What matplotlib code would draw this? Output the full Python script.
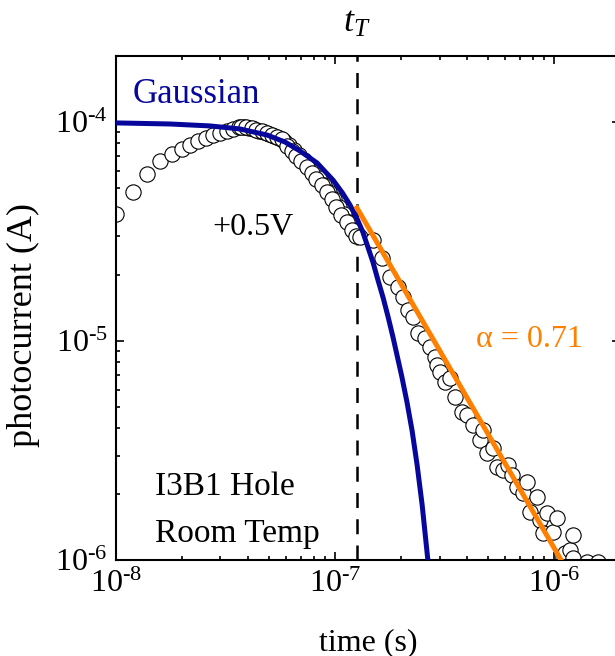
import numpy as np
import matplotlib
matplotlib.use("Agg")
import matplotlib.pyplot as plt
from matplotlib.ticker import FuncFormatter

# measured transient (time in ns, photocurrent in uA)
data_t_ns = [10.0, 12.0, 13.9, 15.9, 18.0, 20.0, 21.8, 23.7, 25.8, 27.7,
             29.8, 32.1, 34.2, 36.4, 38.4, 40.5, 42.7, 45.0, 47.4, 50.0,
             52.7, 55.5, 58.5, 61.7, 65.0, 68.5, 72.2, 76.1, 80.2, 84.5,
             89.1, 93.9, 98.9, 104, 110, 116, 122, 127,
             37.4, 39.4, 41.6, 43.8, 46.2, 48.7, 51.3, 54.1, 57.0, 60.1,
             63.3, 66.7, 70.3, 74.1, 78.1, 82.3, 86.8, 91.5, 96.4, 101.5,
             107, 113, 119, 124.5,
             130, 149, 164, 178, 194, 204, 215, 227, 239, 258,
             272, 286, 292, 302, 318, 335, 353, 380, 401, 427,
             459, 474, 494, 527, 549, 585, 617, 643, 678, 722,
             753, 777, 836, 863, 891, 929, 989, 1032, 1099, 1123,
             1183, 1221, 1221, 1415, 1588]
data_i_ua = [38.0, 47.9, 57.9, 66.4, 71.4, 75.3, 78.5, 81.9, 84.5, 87.2,
             89.1, 91.0, 92.9, 94.9, 94.9, 93.9, 92.9, 91.0, 90.0, 88.2,
             86.3, 84.5, 81.9, 78.5, 74.5, 70.7, 67.1, 63.0, 59.1, 55.5,
             51.6, 47.9, 44.5, 40.9, 38.0, 34.9, 32.1, 30.5,
             94.9, 94.4, 93.4, 92.0, 90.5, 89.1, 87.2, 85.4, 83.2, 78.0,
             74.0, 70.0, 66.5, 62.5, 58.5, 55.0, 51.5, 48.0, 44.5, 41.0,
             37.8, 34.8, 32.0, 30.0,
             29.8, 28.9, 23.9, 19.6, 17.6, 15.9, 13.9, 12.9, 10.9, 10.3,
             9.39, 8.45, 7.77, 7.22, 6.50, 6.78, 5.55, 4.74, 4.59, 4.13,
             3.53, 3.92, 3.08, 3.25, 2.66, 2.58, 2.72, 2.44, 2.15, 2.02,
             2.27, 1.66, 1.94, 1.52, 1.33, 1.64, 1.34, 1.56, 1.03, 1.08,
             1.11, 1.30, 1.02, 0.98, 0.98]

# Gaussian transport curve
gauss_t_ns = [10.0, 17.6, 26.9, 36.8, 48.9, 59.1, 69.2, 82.8, 97.9, 108,
              117, 126, 134, 141, 149, 157, 166, 175, 184, 193,
              202, 213, 225, 237, 250, 263, 266]
gauss_i_ua = [99.0, 97.9, 95.9, 92.9, 87.2, 81.0, 73.7, 65.0, 54.3, 47.5,
              41.8, 36.2, 31.4, 27.0, 22.9, 19.0, 15.7, 12.8, 10.4, 8.40,
              6.85, 5.27, 3.88, 2.72, 1.78, 1.09, 0.98]

# power-law tail fit, alpha = 0.71
fit_t_ns = [126, 1077]
fit_i_ua = [40.5, 1.0]

transit_time = 1.26e-7

x_ticks = [1e-8, 1e-7, 1e-6]
y_ticks = [1e-6, 1e-5, 1e-4]

BLUE = '#07079c'
ORANGE = '#ff8000'


def pow_label(v, pos):
    exp = int(round(np.log10(v)))
    return r'$\mathdefault{10^{\text{-}%d}}$' % abs(exp)


def main():
    plt.rcParams['font.family'] = 'serif'
    plt.rcParams['font.serif'] = ['Liberation Serif', 'DejaVu Serif']
    plt.rcParams['mathtext.fontset'] = 'custom'
    plt.rcParams['mathtext.rm'] = 'Liberation Serif'
    plt.rcParams['mathtext.it'] = 'Liberation Serif:italic'

    fig = plt.figure(figsize=(6.15, 6.56), dpi=100)
    ax = fig.add_axes([0.1886, 0.1463, 0.8195, 0.7683])

    ax.axvline(transit_time, color='black', lw=1.8, ls=(0, (6, 4.5)), zorder=1)

    ax.plot(np.array(data_t_ns) * 1e-9, np.array(data_i_ua) * 1e-6, 'o',
            ms=11, mfc='white', mec='black', mew=0.8, zorder=2)
    ax.plot(np.array(gauss_t_ns) * 1e-9, np.array(gauss_i_ua) * 1e-6,
            color=BLUE, lw=3.6, zorder=3)
    ax.plot(np.array(fit_t_ns) * 1e-9, np.array(fit_i_ua) * 1e-6,
            color=ORANGE, lw=3.6, zorder=4)

    ax.set_xscale('log')
    ax.set_yscale('log')
    ax.set_xlim(1e-8, 2e-6)
    ax.set_ylim(1e-6, 2e-4)
    ax.set_xticks(x_ticks)
    ax.set_yticks(y_ticks)
    ax.xaxis.set_major_formatter(FuncFormatter(pow_label))
    ax.yaxis.set_major_formatter(FuncFormatter(pow_label))

    for s in ax.spines.values():
        s.set_linewidth(1.5)
    ax.tick_params(which='both', direction='in', top=True, right=True,
                   width=1.2, labelsize=23)
    ax.tick_params(which='major', length=6)
    ax.tick_params(which='minor', length=3)
    ax.tick_params(axis='x', pad=7)
    ax.tick_params(axis='y', pad=6)

    ax.set_xlabel('time (s)', fontsize=23)
    ax.xaxis.set_label_coords(0.5, -0.135)
    ax.set_ylabel('photocurrent (A)', fontsize=26)
    ax.yaxis.set_label_coords(-0.151, 0.466)

    ax.text(0.034, 0.907, 'Gaussian', color=BLUE, fontsize=25,
            transform=ax.transAxes, va='baseline')
    ax.text(0.192, 0.645, '+0.5V', fontsize=23,
            transform=ax.transAxes, va='baseline')
    ax.text(0.714, 0.423, '\u03b1 = 0.71', color=ORANGE, fontsize=23,
            transform=ax.transAxes, va='baseline')
    ax.text(0.077, 0.129, 'I3B1 Hole', fontsize=24,
            transform=ax.transAxes, va='baseline')
    ax.text(0.077, 0.036, 'Room Temp', fontsize=24,
            transform=ax.transAxes, va='baseline')
    ax.text(0.478, 1.048, r'$t_T$', fontsize=26,
            transform=ax.transAxes, ha='center', va='baseline')

    fig.savefig('out.png', dpi=100)


if __name__ == "__main__":
    main()
